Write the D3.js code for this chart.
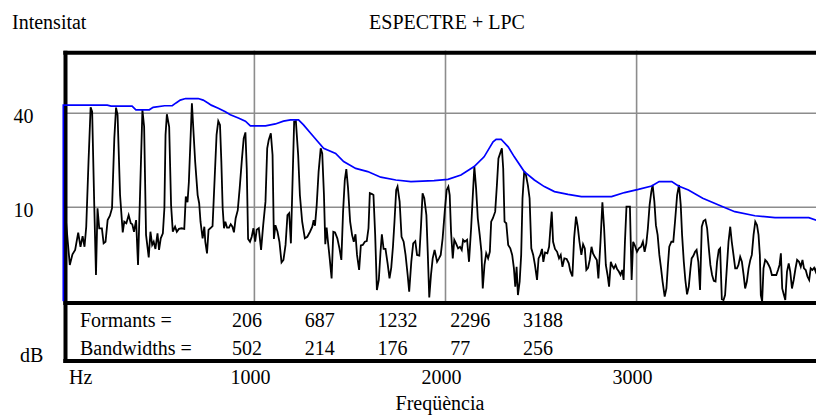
<!DOCTYPE html>
<meta charset="utf-8">
<script src="https://d3js.org/d3.v7.min.js"></script>
<style>
  body { margin: 0; background: #fff; }
</style>
<body>
<div id="chart"></div>
<script>
// axis ticks
var xTicks = [1000, 2000, 3000];
var yTicks = [10, 40];

// LPC table
var formants = [206, 687, 1232, 2296, 3188];
var bandwidths = [502, 214, 176, 77, 256];

// spectrum [Hz, dB]
var spectrum = [
  [8,9.8],[34,-8.4],[48,-5.0],[62,-3.6],[78,1.9],[90,-2.6],[101,0.8],[111,-2.6],[120,3.8],[132,24.6],[143,41.9],[151,40.5],[162,10.7],[171,-11.6],[179,9.7],[188,3.3],[202,3.3],[211,-1.5],[221,-1.0],[232,5.9],[244,7.3],[255,9.7],[267,32],[276,41.8],[284,39.5],[297,13.9],[311,2.0],[319,5.4],[330,4.9],[342,7.5],[353,4.9],[361,4.6],[370,2.2],[381,5.9],[391,-8.4],[402,15],[414,41.1],[423,35.7],[433,1.2],[447,-6],[456,2.2],[465,-2],[473,-1],[482,-3.3],[493,1.7],[501,-3.6],[510,0.1],[521,1.7],[529,9.7],[535,33.1],[542,39.7],[554,35.7],[564,10.7],[573,2.2],[585,3.8],[594,2.2],[605,3.1],[619,3.3],[633,3.1],[641,13.4],[650,11.6],[657,18],
  [673,43.2],[690,24.6],[703,13.9],[711,11.3],[718,5.4],[729,0.1],[738,3.8],[743,-1.0],[752,-4.7],[760,2.8],[769,3.3],[781,4.0],[792,19.2],[802,33.1],[811,37.5],[820,36.3],[827,24.6],[834,9.7],[841,3.3],[848,5.4],[857,3.5],[867,3.5],[876,4.6],[885,3.8],[893,2.0],[902,6.5],[913,9.1],[923,16.1],[935,25.6],[944,32],[953,33.9],[960,22.4],[967,-0.1],[977,-1.0],[986,0.6],[995,3.3],[1004,-1.0],[1012,2.8],[1023,3.3],[1035,-3.6],[1046,4.3],[1058,11.8],[1067,28.8],[1075,31.5],[1086,33.6],[1095,26.7],[1102,-0.1],[1110,4.3],[1121,2.2],[1131,-1],[1142,-7.6],[1152,-6.8],[1163,-2],[1173,7.5],[1182,8.1],[1191,-1.5],[1200,19.2],[1208,37.3],[1217,37.5],[1229,26.7],[1238,13.9],[1250,5.4],[1264,0.1],[1277,0.6],[1291,2.2],[1303,3.8],[1310,5.9],[1317,4.1],
  [1326,10.7],[1336,21.4],[1347,28.8],[1355,27.2],[1364,13.9],[1371,-1.8],[1378,3.5],[1385,-1.0],[1394,-6.3],[1404,-12.7],[1413,2.2],[1422,2.0],[1434,0.1],[1445,-3.1],[1455,-6.8],[1464,8.6],[1473,18.7],[1481,22.2],[1490,16.1],[1501,5.4],[1511,1.2],[1520,-1.0],[1529,1.4],[1537,-5.2],[1548,-10],[1557,-2.2],[1567,-2],[1578,-1.0],[1588,-0.8],[1597,3.3],[1604,14.5],[1616,14.2],[1623,13.9],[1632,1.2],[1641,-16.4],[1651,-13.2],[1660,-4.2],[1667,1.4],[1676,-3.3],[1686,-3.3],[1697,-7.9],[1707,-12.7],[1716,-9.3],[1725,-2.6],[1733,5.4],[1742,15.5],[1749,16.6],[1760,11.8],[1770,0.6],[1781,-1.0],[1791,-5.2],[1802,-11.6],[1810,-16.9],[1821,-7.4],[1831,-1.5],[1842,-0.8],[1851,-5.2],[1863,-5.4],[1872,4.3],[1880,14.5],[1889,12.9],[1900,7.5],[1907,-4.2],[1915,-18.8],[1924,-11.6],[1933,-6.3],[1943,-3.6],[1956,-7.4],[1966,-6.3],
  [1975,-5.2],[1985,0.1],[1996,8.6],[2006,15.5],[2015,16.6],[2022,13.9],[2029,2.2],[2038,-6.3],[2046,-0.4],[2055,-1.5],[2066,-3.1],[2076,-2.6],[2085,-3.6],[2092,-0.4],[2101,-1.0],[2113,-0.4],[2123,-7.4],[2134,3.3],[2143,13.9],[2151,23],[2160,16.1],[2169,6.5],[2179,1.2],[2188,-4.2],[2195,-15.9],[2204,-8.4],[2213,-4.7],[2223,-6.3],[2232,-4.2],[2239,5.4],[2248,6.5],[2260,8.6],[2269,17.1],[2277,25.6],[2286,27.2],[2295,28.8],[2302,22.4],[2309,5.4],[2318,4.9],[2328,-2.0],[2339,-3.1],[2349,-5.2],[2358,-9.5],[2365,-15.3],[2372,-9.0],[2379,-18],[2388,-13.7],[2396,-5.2],[2403,12.9],[2412,21.5],[2421,20.3],[2431,17.1],[2440,12.9],[2449,-3.1],[2459,-5.2],[2468,-8.4],[2479,-13.2],[2487,-6.3],[2496,-5.2],[2505,-3.3],[2512,-7.4],[2521,-4.4],[2533,-4.7],[2542,-2.6],[2549,3.3],[2556,8.6],[2563,-1.0],[2573,-3.3],[2584,-4.2],[2594,-6.3],[2603,-5.2],[2612,-9.0],[2622,-6.3],
  [2634,-6.5],[2645,-7.9],[2653,-10.3],[2664,-12.1],[2673,0.1],[2683,7],[2692,3.8],[2701,-1.0],[2711,-5.2],[2720,-1.8],[2729,-3.1],[2737,-10],[2746,-9.3],[2755,-6.8],[2764,-2.6],[2772,-4.7],[2781,-5.8],[2792,-6.8],[2800,-12.7],[2811,-1.0],[2821,11.6],[2830,3.3],[2839,-8.4],[2848,-11.6],[2856,-15.3],[2865,-7.4],[2872,-8.6],[2881,-9.5],[2890,-8.4],[2898,-9.7],[2907,-10.5],[2916,-11.6],[2925,-10],[2932,-13.2],[2939,-1.0],[2947,10.2],[2965,10.2],[2974,-13.2],[2982,-1.0],[2991,-2.2],[3002,-4.2],[3012,-3.1],[3023,-2.6],[3033,-1.0],[3042,-4.2],[3051,-1.5],[3059,3.3],[3068,10.7],[3077,15],[3084,17.1],[3093,11.8],[3101,4.3],[3110,1.2],[3119,-5.2],[3128,-9.5],[3136,-13.7],[3147,-18.5],[3156,-15.9],[3164,-8.4],[3171,-2.6],[3182,-1.0],[3192,-1.0],[3201,5.4],[3212,13.9],[3222,17.1],[3231,10.7],[3238,1.2],[3247,-7.4],[3255,-13.2],[3264,-17.8],[3273,-15.3],[3282,-9.5],
  [3288,-6.3],[3297,-5.5],[3306,-4.2],[3314,-3.6],[3323,-7.4],[3332,-16.4],[3341,3.8],[3350,5.6],[3360,6],[3369,3.3],[3378,-3.1],[3386,-8.4],[3395,-11.6],[3404,-13.5],[3413,-13.7],[3421,-7.4],[3430,-3.6],[3437,-3.1],[3446,-19.3],[3455,-19.6],[3463,-18],[3472,-9.5],[3481,-1.0],[3490,3.8],[3498,-1.0],[3507,-5.2],[3516,-9.5],[3525,-9.5],[3533,-8.4],[3542,-5.8],[3551,-7.4],[3560,-11.6],[3568,-15.9],[3577,-13.7],[3586,-9.5],[3595,-6.8],[3603,-5.2],[3612,1.2],[3621,5.4],[3630,4.3],[3638,1.2],[3645,-5.2],[3650,-18],[3657,-20],[3664,-9.5],[3673,-6.8],[3682,-7.4],[3691,-8.4],[3699,-9.5],[3708,-11.6],[3720,-11.6],[3731,-11.6],[3740,-10],[3748,-8.4],[3755,-4.7],[3762,-15.9],[3771,-18],[3778,-19.6],[3787,-10.5],[3796,-7.9],[3804,-10.5],[3813,-15.9],[3822,-13.2],[3831,-9.7],[3840,-6.8],[3850,-7.4],[3859,-9],[3868,-6.8],[3876,-9.5],[3885,-10],[3894,-12.1],[3903,-13.2],[3911,-9.5],[3920,-10],[3929,-9.3],[3937,-10.5],[3948,-7.9]
];

// LPC envelope [Hz, dB]
var lpc = [
  [0,-20],[0,42.6],[230,42.6],[250,42.3],[360,42.3],[380,41.1],[450,41.1],[470,41.9],[530,42.4],[570,42.4],[590,43.3],[612,44.2],[640,44.7],[706,44.7],[732,44.2],[759,43.2],[774,42.6],[811,41.6],[848,40.5],[874,39.5],[916,38.5],[953,37.5],[979,36.0],[1058,36.0],[1110,36.6],[1152,37.5],[1189,37.9],[1231,37.9],[1257,36.3],[1310,32.5],[1362,28.8],[1425,27.2],[1467,24.6],[1530,22.4],[1593,21.4],[1661,19.6],[1740,18.7],[1819,18.2],[1940,18.5],[2013,18.9],[2081,20.3],[2150,23.0],[2202,26.1],[2249,30.9],[2265,31.7],[2291,31.7],[2328,29.3],[2360,26.1],[2412,21.4],[2465,18.7],[2517,16.6],[2570,15.0],[2641,14.1],[2711,13.4],[2869,13.4],[2937,14.7],[3009,15.7],[3079,16.8],[3118,18.2],[3184,18.2],[3219,16.8],[3271,15.5],[3346,12.9],[3451,10.2],[3514,8.6],[3619,7.3],[3724,6.7],[3901,6.7],[3950,5.7],[4000,5.5]
];

var width = 816, height = 416;

var svg = d3.select("#chart").append("svg")
    .attr("width", width)
    .attr("height", height)
    .attr("font-family", "'Liberation Serif', Tinos, 'Times New Roman', 'DejaVu Serif', serif")
    .attr("font-size", "20px");

var x = d3.scaleLinear().domain([0, 4000]).range([63.3, 827.7]);
var y = d3.scaleLinear().domain([-20, 60]).range([301.3, 50.6]);
var col = d3.scaleLinear().domain([0, formants.length - 1]).range([232, 523]);

// grid
svg.selectAll(".vgrid").data(xTicks).enter().append("line")
    .attr("x1", d => x(d)).attr("x2", d => x(d))
    .attr("y1", y(60)).attr("y2", y(-20))
    .attr("stroke", "#8c8c8c").attr("stroke-width", 1.6);

svg.selectAll(".hgrid").data(yTicks).enter().append("line")
    .attr("x1", x(0)).attr("x2", width)
    .attr("y1", d => y(d)).attr("y2", d => y(d))
    .attr("stroke", "#8c8c8c").attr("stroke-width", 1.6);

// frame
var frame = svg.append("g").attr("stroke", "#000").attr("stroke-width", 4);
frame.append("line").attr("x1", x(0)).attr("x2", x(4000)).attr("y1", y(60) + 2.2).attr("y2", y(60) + 2.2);
frame.append("line").attr("x1", x(0)).attr("x2", x(4000)).attr("y1", y(-20) + 1.8).attr("y2", y(-20) + 1.8);
frame.append("line").attr("x1", x(0)).attr("x2", x(4000)).attr("y1", 361).attr("y2", 361);
frame.append("line").attr("x1", 65.5).attr("x2", 65.5).attr("y1", y(60) + 0.2).attr("y2", 363);

svg.append("clipPath").attr("id", "plotclip")
  .append("rect")
    .attr("x", x(0) - 1.5).attr("y", y(60) + 4)
    .attr("width", width).attr("height", y(-20) - y(60) - 3.5);

var line = d3.line().x(d => x(d[0])).y(d => y(d[1]));

var plot = svg.append("g").attr("clip-path", "url(#plotclip)");

plot.append("path")
    .datum(spectrum)
    .attr("d", line)
    .attr("fill", "none")
    .attr("stroke", "#000")
    .attr("stroke-width", 1.8);

plot.append("path")
    .datum(lpc)
    .attr("d", line)
    .attr("fill", "none")
    .attr("stroke", "#0000ff")
    .attr("stroke-width", 1.7);

// labels
svg.append("text").attr("x", 12).attr("y", 29).text("Intensitat");
svg.append("text").attr("x", 447).attr("y", 29).attr("text-anchor", "middle").text("ESPECTRE + LPC");
svg.append("text").attr("x", 20).attr("y", 361.5).text("dB");
svg.append("text").attr("x", 69).attr("y", 384).text("Hz");
svg.append("text").attr("x", 440).attr("y", 410).attr("text-anchor", "middle").text("Freqüència");

svg.selectAll(".ylab").data(yTicks).enter().append("text")
    .attr("x", 33.5).attr("y", d => y(d) + 9.8)
    .attr("text-anchor", "end")
    .text(d => d);

svg.selectAll(".xlab").data(xTicks).enter().append("text")
    .attr("x", d => x(d) - 4).attr("y", 384)
    .attr("text-anchor", "middle")
    .text(d => d);

// formant table
svg.append("text").attr("x", 80).attr("y", 327).text("Formants =");
svg.append("text").attr("x", 80).attr("y", 355).text("Bandwidths =");

svg.selectAll(".fval").data(formants).enter().append("text")
    .attr("x", (d, i) => col(i)).attr("y", 327)
    .text(d => d);

svg.selectAll(".bval").data(bandwidths).enter().append("text")
    .attr("x", (d, i) => col(i)).attr("y", 355)
    .text(d => d);
</script>
</body>
